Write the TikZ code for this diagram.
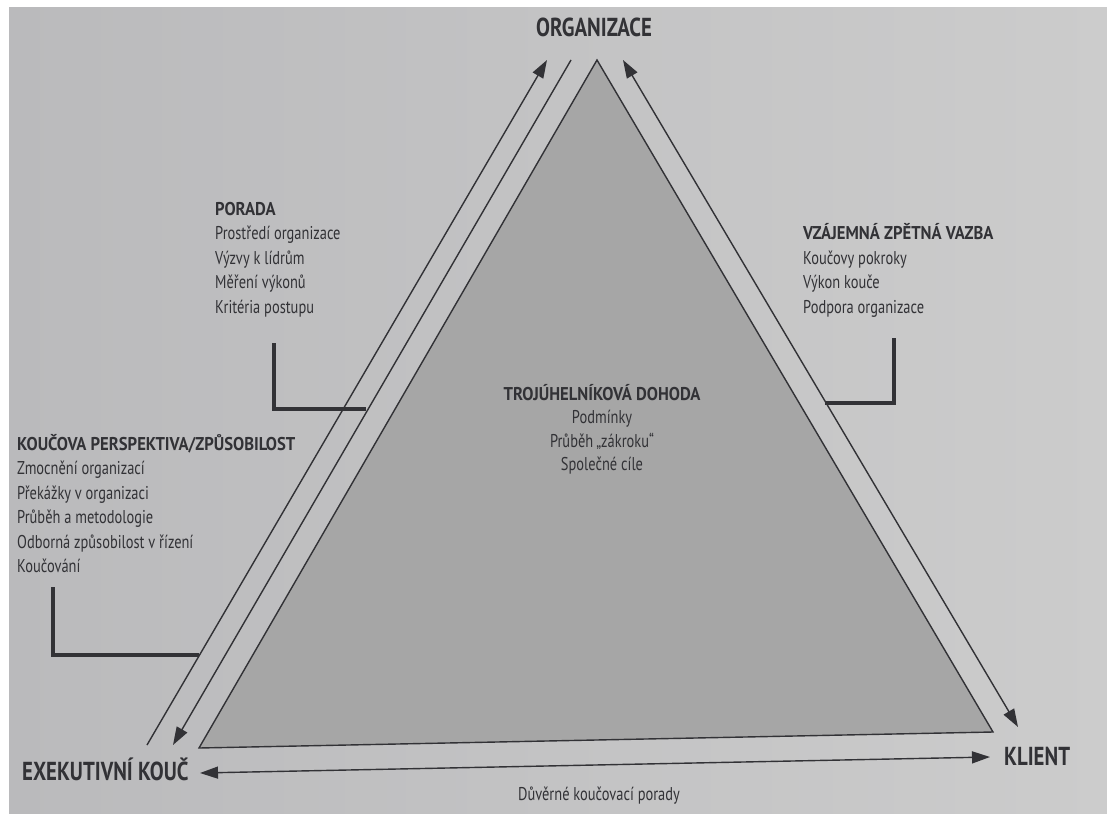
\documentclass[tikz,border=0pt]{standalone}
\usepackage{fontspec}
\setmainfont{PT Sans}[FakeStretch=0.78]
\newfontfamily\headfont{PT Sans}[FakeStretch=0.9]
\newfontfamily\cornerfont{PT Sans}[FakeStretch=0.8]
\usetikzlibrary{arrows.meta}
\definecolor{pageL}{RGB}{186,186,188}
\definecolor{pageR}{RGB}{204,204,204}
\definecolor{trifill}{RGB}{166,166,166}
\definecolor{ink}{RGB}{50,50,54}
\newcommand{\hd}[1]{{\headfont\bfseries #1}}
\begin{document}
\begin{tikzpicture}[x=1pt,y=-1pt,
  every node/.style={inner sep=0pt, text=ink},
  blocktext/.style={font=\fontsize{18.5}{24.5}\selectfont, align=left, anchor=base west},
  centertext/.style={font=\fontsize{18.5}{23.5}\selectfont, align=center, anchor=base},
  corner/.style={font=\fontsize{26}{30}\selectfont\cornerfont\bfseries},
  arrowline/.style={draw=ink, line width=1.4pt},
  tip/.tip={Triangle[length=18pt,width=12pt]},
  bracket/.style={draw=ink, line width=3.5pt},
  tri/.style={draw=ink, line width=1.4pt, fill=trifill, line join=miter}]
\useasboundingbox (0,0) rectangle (1107,813);
\fill[white] (0,0) rectangle (1107,813);
\shade[left color=pageL, right color=pageR] (9,8) rectangle (1107,813);
% triangle
\coordinate (A) at (597,60);
\coordinate (BL) at (199,748);
\coordinate (BR) at (993,732);
\path[tri] (A) -- (BL) -- (BR) -- cycle;
% arrow lines
\coordinate (oB) at (147,745);
\coordinate (oT) at (547,60);
\coordinate (mT) at (571,60);
\coordinate (mB) at (173,745);
\coordinate (rT) at (623,60);
\coordinate (rB) at (1018,727);
\coordinate (bL) at (200,773);
\coordinate (bR) at (990,757);
\draw[arrowline,-tip] (oB) -- (oT);
\draw[arrowline,-tip] (mT) -- (mB);
\draw[arrowline,tip-tip] (rT) -- (rB);
\draw[arrowline,tip-tip] (bL) -- (bR);
% corner labels
\node[corner, anchor=base] (org) at (594,37) {ORGANIZACE};
\node[corner, anchor=base west] (exe) at (22,780) {EXEKUTIVNÍ KOUČ};
\node[corner, anchor=base west] (kli) at (1004,765) {KLIENT};
\node[centertext] (duv) at (599,800) {Důvěrné koučovací porady};
% blocks (base anchor = baseline of the last line)
\node[blocktext] (porada) at (215,313) {\hd{PORADA}\\Prostředí organizace\\Výzvy k lídrům\\Měření výkonů\\Kritéria postupu};
\node[blocktext] (vzaj) at (803,313) {\hd{VZÁJEMNÁ ZPĚTNÁ VAZBA}\\Koučovy pokroky\\Výkon kouče\\Podpora organizace};
\node[blocktext] (kouc) at (17,572.5) {\hd{KOUČOVA PERSPEKTIVA/ZPŮSOBILOST}\\Zmocnění organizací\\Překážky v organizaci\\Průběh a metodologie\\Odborná způsobilost v řízení\\Koučování};
\node[centertext] (troj) at (602,470.5) {\hd{TROJÚHELNÍKOVÁ DOHODA}\\Podmínky\\Průběh\,„zákroku“\\Společné cíle};
% brackets
\coordinate (p1) at (274,343);
\coordinate (p2) at (366,409);
\coordinate (v1) at (894,338);
\coordinate (v2) at (825,403);
\coordinate (k1) at (53,587);
\coordinate (k2) at (199,655);
\draw[bracket] (p1) |- (p2);
\draw[bracket] (v1) |- (v2);
\draw[bracket] (k1) |- (k2);
\end{tikzpicture}
\end{document}
